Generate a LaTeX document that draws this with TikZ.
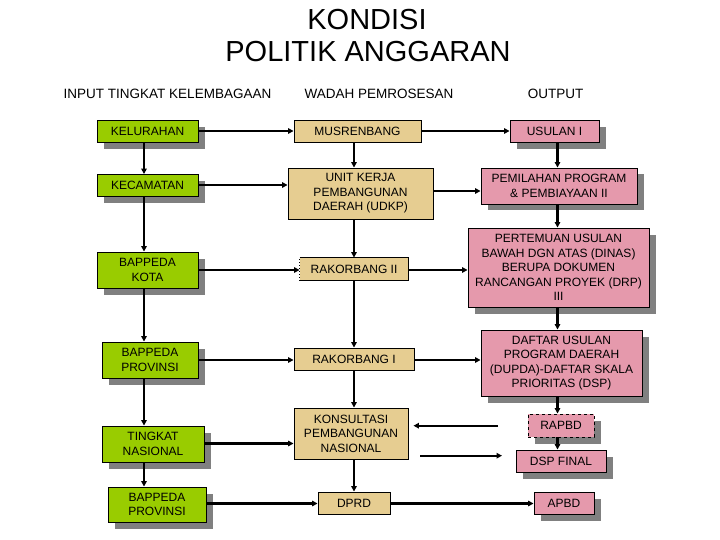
\documentclass[tikz,border=0pt]{standalone}
\usepackage{fontspec}
\setmainfont{Liberation Sans}
\usetikzlibrary{arrows.meta,shadows}
\definecolor{gfill}{RGB}{153,204,0}
\definecolor{tfill}{RGB}{230,205,145}
\definecolor{pfill}{RGB}{229,153,172}
\definecolor{shgray}{RGB}{128,128,128}
\begin{document}
\begin{tikzpicture}[x=1pt,y=-1pt,
  base/.style={draw=black,line width=0.9pt,inner sep=1pt,align=center,
    font=\fontsize{12}{14.6}\selectfont,text=black},
  shad/.style={general shadow={fill=shgray,shadow xshift=6.5pt,shadow yshift=-6.5pt}},
  gbox/.style={base,shad,fill=gfill},
  tbox/.style={base,fill=tfill},
  pbox/.style={base,shad,fill=pfill},
  arr/.style={line width=2.1pt,-{Triangle[length=5.5pt,width=5.5pt]}},
  hdr/.style={font=\fontsize{13.5}{16}\selectfont,inner sep=0pt},
  ttl/.style={font=\fontsize{29}{33}\selectfont,inner sep=0pt}]
\useasboundingbox (0,0) rectangle (720,540);
\fill[white] (0,0) rectangle (720,540);
% titles
\node[ttl] (t1) at (367,20) {KONDISI};
\node[ttl] (t2) at (368,52) {POLITIK ANGGARAN};
\node[hdr] (h1) at (167.5,94) {INPUT TINGKAT KELEMBAGAAN};
\node[hdr] (h2) at (379,94) {WADAH PEMROSESAN};
\node[hdr] (h3) at (555.5,94) {OUTPUT};
% green
\node[gbox,minimum width=101pt,minimum height=21.5pt] (kel) at (147.5,131.5) {KELURAHAN};
\node[gbox,minimum width=101pt,minimum height=22pt] (kec) at (147.5,185.5) {KECAMATAN};
\node[gbox,minimum width=101pt,minimum height=36pt] (kota) at (147.5,270) {BAPPEDA\\KOTA};
\node[gbox,minimum width=96pt,minimum height=36pt] (prov) at (150,360) {BAPPEDA\\PROVINSI};
\node[gbox,minimum width=102pt,minimum height=36pt] (nas) at (153,444) {TINGKAT\\NASIONAL};
\node[gbox,minimum width=98pt,minimum height=35pt] (prov2) at (157,504.5) {BAPPEDA\\PROVINSI};
% tan
\node[tbox,minimum width=127pt,minimum height=21.5pt] (mus) at (357.5,131.5) {MUSRENBANG};
\node[tbox,minimum width=145pt,minimum height=51pt] (udkp) at (360.5,193.5) {UNIT KERJA\\PEMBANGUNAN\\DAERAH (UDKP)};
\node[tbox,draw=none,minimum width=108pt,minimum height=22pt] (rk2) at (354,269) {RAKORBANG II};
\draw[line width=0.9pt] (rk2.north west) -- (rk2.north east) -- (rk2.south east) -- (rk2.south west);
\draw[line width=0.9pt,dotted] (rk2.south west) -- (rk2.north west);
\node[tbox,minimum width=120pt,minimum height=22pt] (rk1) at (354,359) {RAKORBANG I};
\node[tbox,minimum width=114pt,minimum height=51pt] (kons) at (351,433.5) {KONSULTASI\\PEMBANGUNAN\\NASIONAL};
\node[tbox,minimum width=72pt,minimum height=22pt] (dprd) at (354,503) {DPRD};
% pink
\node[pbox,minimum width=89pt,minimum height=21.5pt] (us1) at (554.5,131.5) {USULAN I};
\node[pbox,minimum width=156pt,minimum height=36pt] (pem) at (559,186) {PEMILAHAN PROGRAM\\\& PEMBIAYAAN II};
\node[pbox,minimum width=181pt,minimum height=79pt] (pert) at (558.5,267.5) {PERTEMUAN USULAN\\BAWAH DGN ATAS (DINAS)\\BERUPA DOKUMEN\\RANCANGAN PROYEK (DRP)\\III};
\node[pbox,minimum width=161pt,minimum height=66pt] (daf) at (561.5,363) {DAFTAR USULAN\\PROGRAM DAERAH\\(DUPDA)-DAFTAR SKALA\\PRIORITAS (DSP)};
\node[pbox,dashed,minimum width=66pt,minimum height=23pt] (rapbd) at (561,425.5) {RAPBD};
\node[pbox,minimum width=90pt,minimum height=22pt] (dsp) at (561,461) {DSP FINAL};
\node[pbox,minimum width=60pt,minimum height=22pt] (apbd) at (564,503) {APBD};
% chain coordinates
\coordinate (gx) at (144,0);
\coordinate (tx) at (354,0);
\coordinate (px) at (557.5,0);
% green chain
\draw[arr] (kel.south -| gx) -- (kec.north -| gx);
\draw[arr] (kec.south -| gx) -- (kota.north -| gx);
\draw[arr] (kota.south -| gx) -- (prov.north -| gx);
\draw[arr] (prov.south -| gx) -- (nas.north -| gx);
\draw[arr] (nas.south -| gx) -- (prov2.north -| gx);
% tan chain
\draw[arr] (mus.south -| tx) -- (udkp.north -| tx);
\draw[arr] (udkp.south -| tx) -- (rk2.north -| tx);
\draw[arr] (rk2.south -| tx) -- (rk1.north -| tx);
\draw[arr] (rk1.south -| tx) -- (kons.north -| tx);
\draw[arr] (kons.south -| tx) -- (dprd.north -| tx);
% pink chain
\draw[arr] (us1.south -| px) -- (pem.north -| px);
\draw[arr] (pem.south -| px) -- (pert.north -| px);
\draw[arr] (pert.south -| px) -- (daf.north -| px);
\draw[arr] (daf.south -| px) -- (rapbd.north -| px);
\draw[arr] (rapbd.south -| px) -- (dsp.north -| px);
% horizontal rows
\coordinate (y1) at (0,131);
\coordinate (y2) at (0,191);
\coordinate (y3) at (0,270);
\coordinate (y4) at (0,360);
\coordinate (y5) at (0,425.7);
\coordinate (y6) at (0,455.7);
\coordinate (yk) at (0,185);
\coordinate (yn) at (0,443.5);
\coordinate (yd) at (0,503.5);
% green -> tan
\draw[arr] (kel.east |- y1) -- (mus.west |- y1);
\draw[arr] (kec.east |- yk) -- (udkp.west |- yk);
\draw[arr] (kota.east |- y3) -- (rk2.west |- y3);
\draw[arr] (prov.east |- y4) -- (rk1.west |- y4);
\draw[arr] (nas.east |- yn) -- (kons.west |- yn);
\draw[arr] (prov2.east |- yd) -- (dprd.west |- yd);
% tan -> pink
\draw[arr] (mus.east |- y1) -- (us1.west |- y1);
\draw[arr] (udkp.east |- y2) -- (pem.west |- y2);
\draw[arr] (rk2.east |- y3) -- (pert.west |- y3);
\draw[arr] (rk1.east |- y4) -- (daf.west |- y4);
\coordinate (a1) at (498,425.7);
\draw[arr,shorten >=5pt] (a1) -- (kons.east |- y5);
\coordinate (b2) at (502,455.7);
\draw[arr,shorten <=12pt] (kons.east |- y6) -- (b2);
\draw[arr] (dprd.east |- yd) -- (apbd.west |- yd);
\end{tikzpicture}
\end{document}
